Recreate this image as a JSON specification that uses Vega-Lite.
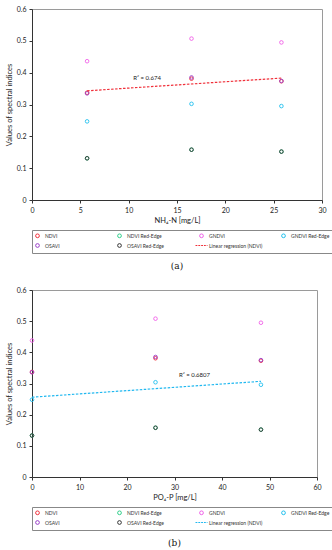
{
  "$schema": "https://vega.github.io/schema/vega-lite/v6.json",
  "padding": {"left": 4, "top": 4, "right": 6, "bottom": 2},
  "background": "white",
  "config": {
    "font": "Lato",
    "view": {"stroke": "#9a9a9a", "strokeWidth": 1},
    "axis": {"grid": false, "domainColor": "#333", "tickColor": "#333", "labelFontSize": 7, "titleFontSize": 7.5, "titleFontWeight": "normal", "labelColor": "#222", "titleColor": "#222", "tickSize": 3, "labelPadding": 3, "titlePadding": 3, "labelOverlap": false, "labelFlush": false},
    "legend": {"orient": "bottom", "direction": "horizontal", "columns": 4, "gridAlign": "all", "labelFontSize": 5, "labelColor": "#333", "symbolSize": 14, "symbolStrokeWidth": 1, "strokeColor": "#888", "padding": 3, "rowPadding": 1, "columnPadding": 12, "labelOffset": 5, "offset": 6, "labelLimit": 120},
    "concat": {"spacing": 14}
  },
  "datasets": {
    "ptsA": [
      {"series": "NDVI", "x": 5.7, "value": 0.337}, {"series": "NDVI", "x": 16.5, "value": 0.381}, {"series": "NDVI", "x": 25.8, "value": 0.373},
      {"series": "NDVI Red-Edge", "x": 5.7, "value": 0.131}, {"series": "NDVI Red-Edge", "x": 16.5, "value": 0.158}, {"series": "NDVI Red-Edge", "x": 25.8, "value": 0.152},
      {"series": "GNDVI", "x": 5.7, "value": 0.436}, {"series": "GNDVI", "x": 16.5, "value": 0.507}, {"series": "GNDVI", "x": 25.8, "value": 0.495},
      {"series": "GNDVI Red-Edge", "x": 5.7, "value": 0.247}, {"series": "GNDVI Red-Edge", "x": 16.5, "value": 0.302}, {"series": "GNDVI Red-Edge", "x": 25.8, "value": 0.295},
      {"series": "OSAVI", "x": 5.7, "value": 0.335}, {"series": "OSAVI", "x": 16.5, "value": 0.385}, {"series": "OSAVI", "x": 25.8, "value": 0.374},
      {"series": "OSAVI Red-Edge", "x": 5.7, "value": 0.131}, {"series": "OSAVI Red-Edge", "x": 16.5, "value": 0.158}, {"series": "OSAVI Red-Edge", "x": 25.8, "value": 0.152}
    ],
    "regA": [
      {"series": "Linear regression (NDVI)", "x": 5.7, "value": 0.343},
      {"series": "Linear regression (NDVI)", "x": 25.8, "value": 0.383}
    ],
    "ptsB": [
      {"series": "NDVI", "x": 0, "value": 0.337}, {"series": "NDVI", "x": 26, "value": 0.381}, {"series": "NDVI", "x": 48.2, "value": 0.373},
      {"series": "NDVI Red-Edge", "x": 0, "value": 0.133}, {"series": "NDVI Red-Edge", "x": 26, "value": 0.158}, {"series": "NDVI Red-Edge", "x": 48.2, "value": 0.152},
      {"series": "GNDVI", "x": 0, "value": 0.438}, {"series": "GNDVI", "x": 26, "value": 0.508}, {"series": "GNDVI", "x": 48.2, "value": 0.495},
      {"series": "GNDVI Red-Edge", "x": 0, "value": 0.248}, {"series": "GNDVI Red-Edge", "x": 26, "value": 0.304}, {"series": "GNDVI Red-Edge", "x": 48.2, "value": 0.296},
      {"series": "OSAVI", "x": 0, "value": 0.336}, {"series": "OSAVI", "x": 26, "value": 0.385}, {"series": "OSAVI", "x": 48.2, "value": 0.375},
      {"series": "OSAVI Red-Edge", "x": 0, "value": 0.133}, {"series": "OSAVI Red-Edge", "x": 26, "value": 0.158}, {"series": "OSAVI Red-Edge", "x": 48.2, "value": 0.152}
    ],
    "regB": [
      {"series": "Linear regression (NDVI)", "x": 0, "value": 0.256},
      {"series": "Linear regression (NDVI)", "x": 48.2, "value": 0.307}
    ],
    "labA": [{"x": 11.9, "value": 0.384, "label": "R² = 0.674"}],
    "labB": [{"x": 34.2, "value": 0.326, "label": "R² = 0.6807"}]
  },
  "resolve": {"scale": {"color": "independent", "shape": "independent", "x": "independent", "y": "independent"}, "legend": {"color": "independent", "shape": "independent"}, "axis": {"x": "independent", "y": "independent"}},
  "vconcat": [
    {
      "width": 290, "height": 191,
      "title": {"text": "(a)", "orient": "bottom", "font": "DejaVu Serif", "fontSize": 9, "fontWeight": "normal", "color": "#111", "offset": 8},
      "encoding": {
        "x": {"field": "x", "type": "quantitative", "scale": {"domain": [0, 30]}, "axis": {"values": [0, 5, 10, 15, 20, 25, 30], "title": "NH₄-N [mg/L]"}},
        "y": {"field": "value", "type": "quantitative", "scale": {"domain": [0, 0.6]}, "axis": {"values": [0, 0.1, 0.2, 0.3, 0.4, 0.5, 0.6], "format": ".1~f", "title": "Values of spectral indices"}}
      },
      "layer": [
        {
          "data": {"name": "ptsA"},
          "mark": {"type": "point", "filled": false, "size": 13, "strokeWidth": 0.9, "opacity": 1},
          "encoding": {
            "color": {"field": "series", "type": "nominal", "scale": {"domain": ["NDVI", "NDVI Red-Edge", "GNDVI", "GNDVI Red-Edge", "OSAVI", "OSAVI Red-Edge", "Linear regression (NDVI)"], "range": ["#f0303a", "#2fcf8a", "#f060e8", "#20c0ee", "#9a40c8", "#333333", "#f0303a"]},
              "legend": {"title": null}},
            "shape": {"field": "series", "type": "nominal", "scale": {"domain": ["NDVI", "NDVI Red-Edge", "GNDVI", "GNDVI Red-Edge", "OSAVI", "OSAVI Red-Edge", "Linear regression (NDVI)"], "range": ["circle", "circle", "circle", "circle", "circle", "circle", "M-3.2,0H-2.2M-1.7,0H-0.7M-0.2,0H0.8M1.3,0H2.3M2.8,0H3.2"]}, "legend": {"title": null}}
          }
        },
        {
          "data": {"name": "regA"},
          "mark": {"type": "line", "strokeDash": [2.5, 1.5], "strokeWidth": 1.2},
          "encoding": {
            "color": {"field": "series", "type": "nominal"}
          }
        },
        {
          "data": {"name": "labA"},
          "mark": {"type": "text", "fontSize": 6, "color": "#222"},
          "encoding": {
            "text": {"field": "label"}
          }
        }
      ]
    },
    {
      "width": 285, "height": 187,
      "title": {"text": "(b)", "orient": "bottom", "font": "DejaVu Serif", "fontSize": 9, "fontWeight": "normal", "color": "#111", "offset": 8},
      "encoding": {
        "x": {"field": "x", "type": "quantitative", "scale": {"domain": [0, 60]}, "axis": {"values": [0, 10, 20, 30, 40, 50, 60], "title": "PO₄-P [mg/L]"}},
        "y": {"field": "value", "type": "quantitative", "scale": {"domain": [0, 0.6]}, "axis": {"values": [0, 0.1, 0.2, 0.3, 0.4, 0.5, 0.6], "format": ".1~f", "title": "Values of spectral indices"}}
      },
      "layer": [
        {
          "data": {"name": "ptsB"},
          "mark": {"type": "point", "filled": false, "size": 13, "strokeWidth": 0.9, "opacity": 1},
          "encoding": {
            "color": {"field": "series", "type": "nominal", "scale": {"domain": ["NDVI", "NDVI Red-Edge", "GNDVI", "GNDVI Red-Edge", "OSAVI", "OSAVI Red-Edge", "Linear regression (NDVI)"], "range": ["#f0303a", "#2fcf8a", "#f060e8", "#20c0ee", "#9a40c8", "#333333", "#20b8f0"]},
              "legend": {"title": null}},
            "shape": {"field": "series", "type": "nominal", "scale": {"domain": ["NDVI", "NDVI Red-Edge", "GNDVI", "GNDVI Red-Edge", "OSAVI", "OSAVI Red-Edge", "Linear regression (NDVI)"], "range": ["circle", "circle", "circle", "circle", "circle", "circle", "M-3.2,0H-2.2M-1.7,0H-0.7M-0.2,0H0.8M1.3,0H2.3M2.8,0H3.2"]}, "legend": {"title": null}}
          }
        },
        {
          "data": {"name": "regB"},
          "mark": {"type": "line", "strokeDash": [2.5, 1.5], "strokeWidth": 1.2},
          "encoding": {
            "color": {"field": "series", "type": "nominal"}
          }
        },
        {
          "data": {"name": "labB"},
          "mark": {"type": "text", "fontSize": 6, "color": "#222"},
          "encoding": {
            "text": {"field": "label"}
          }
        }
      ]
    }
  ]
}
